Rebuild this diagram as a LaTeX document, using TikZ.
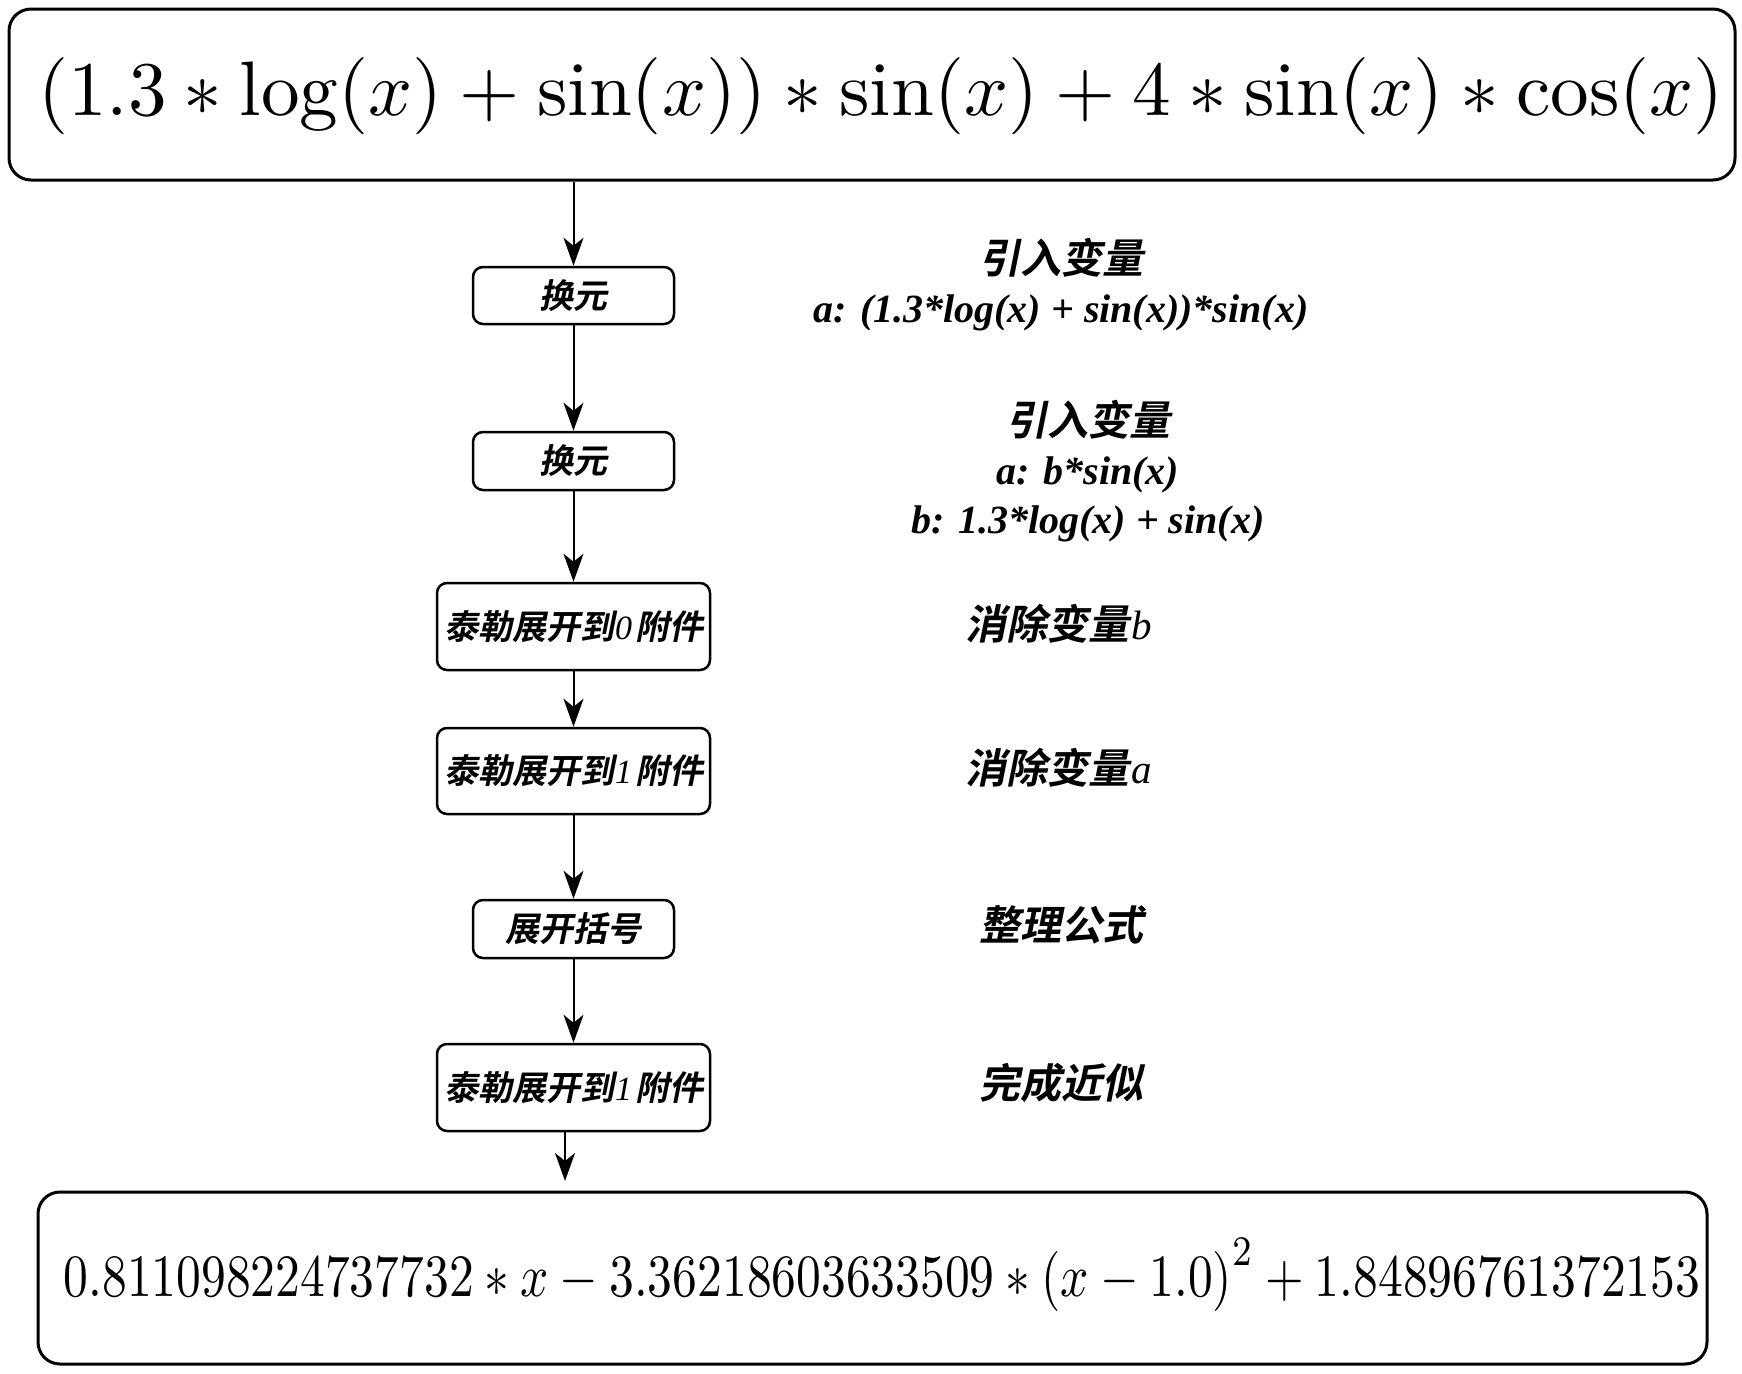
\documentclass[tikz,border=0pt]{standalone}
\usepackage{fontspec}
\usepackage{graphicx}
\usetikzlibrary{arrows.meta}
\newfontfamily\cjk{Noto Sans CJK SC}[UprightFont=* Bold, FakeSlant=0.2]
\newfontfamily\tmsbi{Liberation Serif}[UprightFont=* Bold Italic]
\newfontfamily\tmsi{Liberation Serif}[UprightFont=* Italic]
\newcommand{\dig}[1]{\kern1pt{\tmsi #1}\kern3pt}
\begin{document}
\begin{tikzpicture}[x=1pt,y=-1pt,
  bigbox/.style={draw, line width=3pt, rounded corners=22pt, inner sep=0pt},
  stepbox/.style={draw, line width=2.5pt, rounded corners=10pt, inner sep=0pt,
    font=\cjk\fontsize{34pt}{40pt}\selectfont},
  lab/.style={align=center, inner sep=0pt, font=\tmsbi\fontsize{40pt}{49pt}\selectfont},
  conn/.style={line width=2pt, -{Stealth[length=28pt,width=20pt,inset=8pt]}}]
\useasboundingbox (0,0) rectangle (1742,1373);
% top and bottom formula boxes
\node[bigbox, minimum width=1726pt, minimum height=171pt] (top) at (872,94.5) {};
\node[inner sep=0pt] (topf) at (881,96)
  {\resizebox{1685pt}{!}{$(1.3*\log(x)+\sin(x))*\sin(x)+4*\sin(x)*\cos(x)$}};
\node[bigbox, minimum width=1669pt, minimum height=172pt] (bot) at (872.5,1278) {};
\node[inner sep=0pt] (botf) at (882,1275)
  {\resizebox{1636pt}{6\height}{$0.811098224737732*x-3.36218603633509*\left(x-1.0\right)^{2}+1.84896761372153$}};
% steps
\node[stepbox, minimum width=201pt, minimum height=57pt] (b1) at (573.5,295.5) {换元};
\node[stepbox, minimum width=201pt, minimum height=58pt] (b2) at (573.5,461) {换元};
\node[stepbox, minimum width=273pt, minimum height=87pt] (b3) at (573.5,626.5) {泰勒展开到\dig{0}附件};
\node[stepbox, minimum width=273pt, minimum height=86pt] (b4) at (573.5,771) {泰勒展开到\dig{1}附件};
\node[stepbox, minimum width=201pt, minimum height=58pt] (b5) at (573.5,929) {展开括号};
\node[stepbox, minimum width=273pt, minimum height=87pt] (b6) at (573.5,1087.5) {泰勒展开到\dig{1}附件};
\coordinate (end) at (565,1181);
% labels
\node[lab] (l1) at (1061,285) {{\cjk\fontsize{41pt}{49pt}\selectfont 引入变量}\\a: (1.3*log(x) + sin(x))*sin(x)};
\node[lab] (l2) at (1088,471) {{\cjk\fontsize{41pt}{49pt}\selectfont 引入变量}\\a: b*sin(x)\\b: 1.3*log(x) + sin(x)};
\node[lab, font=\cjk\fontsize{41pt}{49pt}\selectfont] (l3) at (1059,624) {消除变量\kern2pt{\tmsi b}};
\node[lab, font=\cjk\fontsize{41pt}{49pt}\selectfont] (l4) at (1059,768) {消除变量\kern2pt{\tmsi a}};
\node[lab, font=\cjk\fontsize{41pt}{49pt}\selectfont] (l5) at (1061,925) {整理公式};
\node[lab, font=\cjk\fontsize{41pt}{49pt}\selectfont] (l6) at (1061,1083) {完成近似};
% connectors
\draw[conn] (b1.north |- top.south) -- (b1.north);
\draw[conn] (b1) -- (b2);
\draw[conn] (b2) -- (b3);
\draw[conn] (b3) -- (b4);
\draw[conn] (b4) -- (b5);
\draw[conn] (b5) -- (b6);
\draw[conn] (b6.south -| end) -- (end);
\end{tikzpicture}
\end{document}
